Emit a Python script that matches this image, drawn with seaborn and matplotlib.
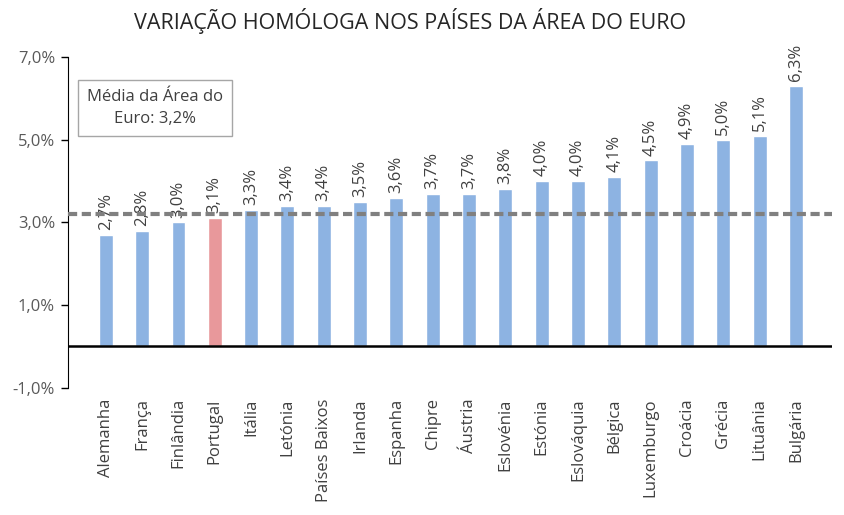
import matplotlib
matplotlib.use("Agg")
from matplotlib import pyplot as plt
import seaborn as sns
import pandas as pd

# data
paises = ['Alemanha', 'França', 'Finlândia', 'Portugal', 'Itália', 'Letónia',
          'Países Baixos', 'Irlanda', 'Espanha', 'Chipre', 'Áustria', 'Eslovénia',
          'Estónia', 'Eslováquia', 'Bélgica', 'Luxemburgo', 'Croácia', 'Grécia',
          'Lituânia', 'Bulgária']
variacao = [2.7, 2.8, 3.0, 3.1, 3.3, 3.4, 3.4, 3.5, 3.6, 3.7, 3.7, 3.8,
            4.0, 4.0, 4.1, 4.5, 4.9, 5.0, 5.1, 6.3]
media_euro = 3.2
destaque = 'Portugal'

df = pd.DataFrame({'pais': paises, 'valor': variacao})
cores = ['#E8989B' if p == destaque else '#8DB3E2' for p in paises]

sns.set_style('white')
plt.rcParams['font.family'] = ['Open Sans', 'DejaVu Sans']

fig = plt.figure(figsize=(8.45, 5.15), dpi=100)
ax = fig.add_axes([0.080, 0.247, 0.905, 0.642])

sns.barplot(data=df, x='pais', y='valor', hue='pais', palette=cores,
            legend=False, width=0.38, ax=ax, saturation=1)

# value labels
for i, v in enumerate(variacao):
    ax.text(i, v + 0.12, f'{v:.1f}%'.replace('.', ','), rotation=90,
            ha='center', va='bottom', fontsize=12, color='#404040')

ax.axhline(0, color='black', lw=1.8, zorder=3)
ax.axhline(media_euro, color='#808080', lw=3, ls=(0, (2.2, 1.1)), zorder=4)

ax.set_xlim(-1.05, len(paises))
ax.set_ylim(-1, 7)
ax.set_yticks([-1, 1, 3, 5, 7])
ax.set_yticklabels([f'{t:.1f}%'.replace('.', ',') for t in [-1, 1, 3, 5, 7]],
                   color='#595959', fontsize=12)
ax.tick_params(axis='y', left=True, length=5, width=1, color='black', pad=4)
ax.tick_params(axis='x', bottom=False, labelsize=12, labelcolor='#404040',
               rotation=90, pad=4)
for s in ['top', 'right', 'bottom']:
    ax.spines[s].set_visible(False)
ax.spines['left'].set_color('black')
ax.set_xlabel('')
ax.set_ylabel('')

ax.text(1.35, 5.77, 'Média da Área do\nEuro: 3,2%', ha='center', va='center',
        fontsize=12, color='#404040', linespacing=1.5,
        bbox=dict(boxstyle='square,pad=0.55', fc='white', ec='#A6A6A6', lw=1))

fig.suptitle('VARIAÇÃO HOMÓLOGA NOS PAÍSES DA ÁREA DO EURO', x=0.485, y=0.985,
             fontsize=15.5, color='#262626')

plt.savefig('out.png', dpi=100)
